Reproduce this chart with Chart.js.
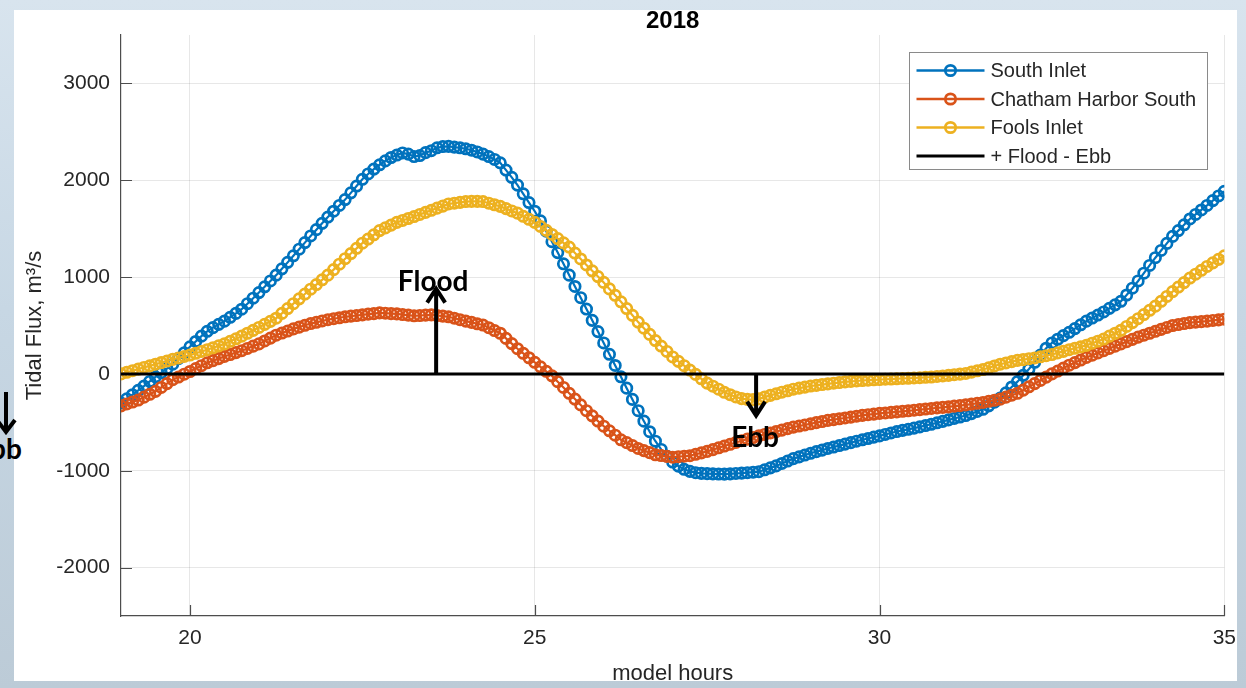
<!DOCTYPE html>
<html>
<head>
<meta charset="utf-8">
<title>Tidal Flux 2018</title>
<script src="https://cdn.jsdelivr.net/npm/chart.js@4.4.0/dist/chart.umd.min.js"></script>
<style>
    html, body {
        margin: 0;
        padding: 0;
        width: 1246px;
        height: 688px;
        overflow: hidden;
    }
    body {
        position: relative;
        background: linear-gradient(180deg, #d8e4ee 0%, #c7d7e4 45%, #bccbd7 100%);
    }
    #panel {
        position: absolute;
        left: 14px;
        top: 10px;
        width: 1223px;
        height: 671px;
        background: #ffffff;
    }
    #chart {
        position: absolute;
        left: 0;
        top: 0;
    }
    #edge-ebb {
        position: absolute;
        left: -26px;
        top: 431px;
        font: bold 28px Lato, 'Open Sans', sans-serif;
        color: #000;
    }
    #edge-arrow {
        position: absolute;
        left: -6px;
        top: 388px;
    }
</style>
</head>
<body>
<div id="panel"></div>
<svg id="edge-arrow" width="24" height="50">
    <path d="M12 4 L12 44 M3 32 L12 44 L21 32" stroke="#000" stroke-width="4" fill="none"/>
</svg>
<div id="edge-ebb">Ebb</div>
<canvas id="chart" width="1246" height="688"></canvas>
<script>
// Samples every 5 minutes from hour 19 to hour 35
const START_HOUR = 19;
const STEP_MINUTES = 5;

// South Inlet flux (m3/s), one row per model hour
const southInlet = [
    -300, -258, -215, -170, -125, -78, -30, 12, 55, 100, 158, 218,
    280, 335, 390, 440, 478, 512, 545, 585, 625, 668, 725, 782,
    840, 900, 960, 1020, 1085, 1152, 1220, 1288, 1356, 1425, 1490, 1555,
    1620, 1680, 1740, 1800, 1870, 1940, 2010, 2065, 2115, 2160, 2200, 2235,
    2260, 2282, 2270, 2245, 2255, 2285, 2305, 2335, 2348, 2350, 2342, 2335,
    2325, 2310, 2292, 2270, 2245, 2215, 2180, 2105, 2030, 1950, 1860, 1770,
    1680, 1580, 1475, 1365, 1253, 1137, 1020, 903, 787, 670, 553, 437,
    320, 203, 87, -30, -147, -263, -380, -488, -597, -695, -780, -850,
    -910, -952, -985, -1006, -1020, -1027, -1030, -1032, -1034, -1035, -1032, -1028,
    -1025, -1020, -1015, -1010, -990, -970, -950, -925, -900, -875, -857, -838,
    -820, -803, -787, -770, -755, -740, -725, -710, -695, -680, -667, -653,
    -640, -625, -610, -595, -583, -572, -560, -547, -533, -520, -505, -490,
    -475, -460, -445, -430, -410, -388, -365, -330, -292, -250, -195, -135,
    -80, -15, 50, 120, 195, 265, 320, 358, 395, 430, 468, 507,
    545, 577, 608, 640, 677, 713, 750, 815, 885, 960, 1040, 1120,
    1200, 1275, 1348, 1420, 1480, 1540, 1600, 1647, 1693, 1740, 1790, 1838,
    1885
];

// Chatham Harbor South flux (m3/s)
const chathamSouth = [
    -330, -310, -290, -270, -240, -210, -180, -140, -100, -60, -32, -3,
    25, 55, 85, 115, 137, 158, 180, 200, 220, 240, 263, 287,
    310, 340, 370, 400, 422, 443, 465, 483, 502, 520, 533, 547,
    560, 570, 580, 590, 597, 603, 610, 617, 623, 630, 627, 623,
    620, 613, 607, 600, 603, 607, 610, 603, 597, 590, 575, 560,
    545, 532, 518, 505, 477, 448, 420, 367, 313, 260, 213, 167,
    120, 73, 27, -20, -80, -140, -200, -260, -320, -380, -433, -487,
    -540, -587, -633, -680, -710, -740, -770, -792, -813, -835, -843, -852,
    -860, -855, -850, -845, -830, -815, -800, -782, -763, -745, -727, -708,
    -690, -673, -657, -640, -625, -610, -595, -580, -565, -550, -538, -527,
    -515, -503, -492, -480, -472, -463, -455, -446, -437, -428, -421, -415,
    -408, -403, -397, -392, -386, -381, -375, -369, -363, -357, -351, -346,
    -340, -333, -327, -320, -312, -303, -295, -283, -272, -260, -240, -220,
    -200, -167, -133, -100, -67, -33, 0, 30, 60, 90, 117, 143,
    170, 193, 217, 240, 263, 287, 310, 333, 357, 380, 400, 420,
    440, 460, 480, 500, 510, 520, 530, 535, 540, 545, 552, 558,
    565
];

// Fools Inlet flux (m3/s)
const foolsInlet = [
    0, 17, 33, 50, 67, 83, 100, 117, 133, 150, 165, 180,
    195, 213, 232, 250, 270, 290, 310, 337, 363, 390, 420, 450,
    480, 512, 543, 575, 625, 675, 725, 775, 825, 875, 923, 972,
    1020, 1077, 1133, 1190, 1243, 1297, 1350, 1393, 1437, 1480, 1508, 1537,
    1565, 1585, 1605, 1625, 1647, 1668, 1690, 1712, 1733, 1755, 1763, 1772,
    1780, 1782, 1782, 1780, 1763, 1747, 1730, 1707, 1683, 1660, 1628, 1597,
    1565, 1523, 1482, 1440, 1397, 1353, 1310, 1248, 1187, 1125, 1065, 1005,
    945, 878, 812, 745, 675, 605, 535, 472, 408, 345, 288, 232,
    175, 130, 85, 40, -5, -50, -95, -127, -158, -190, -215, -238,
    -255, -263, -265, -258, -240, -222, -205, -189, -174, -158, -147, -136,
    -125, -118, -110, -103, -96, -89, -82, -77, -73, -68, -65, -61,
    -58, -55, -53, -50, -47, -45, -42, -39, -35, -32, -26, -21,
    -15, -8, -2, 5, 18, 32, 45, 63, 82, 100, 113, 127,
    140, 148, 157, 165, 177, 188, 200, 217, 233, 250, 265, 280,
    295, 317, 338, 360, 390, 420, 450, 490, 530, 570, 613, 657,
    700, 750, 800, 850, 897, 943, 990, 1030, 1070, 1110, 1147, 1183,
    1220
];

// Zero reference line (+ Flood - Ebb)
const zeroLineHours = [19, 35];
const zeroLineValues = [0, 0];

const xTicks = [20, 25, 30, 35];
const yTicks = [-2000, -1000, 0, 1000, 2000, 3000];
const xRange = [19, 35];
const yRange = [-2500, 3500];

// Flood / Ebb annotation arrows: [hour, tip value]
const floodArrow = [23.57, 880];
const ebbArrow = [28.21, -430];

const FONT = "'Liberation Sans', Arial, Helvetica, sans-serif";
const NOTE_FONT = "bold 28px Lato, 'Open Sans', sans-serif";
const TEXT_COLOR = '#262626';
const AXIS_COLOR = '#4d4d4d';
const GRID_COLOR = 'rgba(38, 38, 38, 0.11)';

const colors = {
    south: '#0072BD',
    chatham: '#D95319',
    fools: '#EDB120'
};

function toPoints(values) {
    return values.map((v, i) => ({ x: START_HOUR + i * STEP_MINUTES / 60, y: v }));
}

function seriesStyle(label, color, values, order) {
    return {
        label: label,
        data: toPoints(values),
        borderColor: color,
        borderWidth: 2.2,
        pointStyle: 'circle',
        pointRadius: 5.2,
        pointBorderWidth: 2.7,
        pointBorderColor: color,
        pointBackgroundColor: 'rgba(0,0,0,0)',
        tension: 0,
        fill: false,
        order: order
    };
}

function drawArrow(ctx, x, y0, y1) {
    const dir = Math.sign(y1 - y0);
    ctx.beginPath();
    ctx.moveTo(x, y0);
    ctx.lineTo(x, y1);
    ctx.moveTo(x - 9, y1 - dir * 14);
    ctx.lineTo(x, y1);
    ctx.lineTo(x + 9, y1 - dir * 14);
    ctx.stroke();
}

const overlayPlugin = {
    id: 'matlabOverlay',
    beforeDatasetsDraw(chart) {
        // inward tick marks, MATLAB style
        const { ctx, chartArea: a, scales: { x, y } } = chart;
        ctx.save();
        ctx.strokeStyle = AXIS_COLOR;
        ctx.lineWidth = 1.2;
        ctx.beginPath();
        yTicks.forEach(v => {
            const py = Math.round(y.getPixelForValue(v)) + 0.5;
            ctx.moveTo(a.left, py);
            ctx.lineTo(a.left + 11, py);
        });
        xTicks.forEach(v => {
            const px = Math.round(x.getPixelForValue(v)) + 0.5;
            ctx.moveTo(px, a.bottom);
            ctx.lineTo(px, a.bottom - 11);
        });
        ctx.stroke();
        ctx.restore();
    },
    afterDatasetsDraw(chart) {
        const { ctx, scales: { x, y } } = chart;
        const y0 = y.getPixelForValue(0);
        ctx.save();
        ctx.strokeStyle = '#000';
        ctx.fillStyle = '#000';
        ctx.lineWidth = 4;
        ctx.lineCap = 'butt';
        ctx.lineJoin = 'miter';

        const fx = x.getPixelForValue(floodArrow[0]);
        const fy = y.getPixelForValue(floodArrow[1]);
        drawArrow(ctx, fx, y0, fy);
        const ex = x.getPixelForValue(ebbArrow[0]);
        const ey = y.getPixelForValue(ebbArrow[1]);
        drawArrow(ctx, ex, y0, ey);

        ctx.font = NOTE_FONT;
        ctx.textAlign = 'center';
        ctx.textBaseline = 'alphabetic';
        ctx.fillText('Flood', fx - 3, fy + 2);
        ctx.fillText('Ebb', ex - 1, ey + 31);
        ctx.restore();
    },
    afterDraw(chart) {
        // legend box in the upper right corner
        const { ctx, chartArea: a } = chart;
        const boxW = 298, boxH = 117;
        const bx = Math.round(a.right - 17 - boxW) + 0.5;
        const by = Math.round(a.top + 17) + 0.5;
        ctx.save();
        ctx.fillStyle = '#fff';
        ctx.fillRect(bx, by, boxW, boxH);
        ctx.strokeStyle = '#8a8a8a';
        ctx.lineWidth = 1;
        ctx.strokeRect(bx, by, boxW, boxH);

        const rows = chart.data.datasets.slice().sort((p, q) => p.legendIndex - q.legendIndex);
        rows.forEach((ds, i) => {
            const ry = by + 18 + i * 28.5;
            const lx0 = bx + 7, lx1 = bx + 75, cx = bx + 41;
            ctx.strokeStyle = ds.borderColor;
            ctx.lineWidth = ds.pointRadius > 0 ? 2.6 : 3.2;
            ctx.beginPath();
            ctx.moveTo(lx0, ry);
            ctx.lineTo(lx1, ry);
            ctx.stroke();
            if (ds.pointRadius > 0) {
                ctx.lineWidth = ds.pointBorderWidth;
                ctx.beginPath();
                ctx.arc(cx, ry, ds.pointRadius, 0, Math.PI * 2);
                ctx.stroke();
            }
            ctx.fillStyle = TEXT_COLOR;
            ctx.font = '20px ' + FONT;
            ctx.textAlign = 'left';
            ctx.textBaseline = 'middle';
            ctx.fillText(ds.label, bx + 81, ry + 1);
        });
        ctx.restore();
    }
};

const datasets = [
    Object.assign(seriesStyle('South Inlet', colors.south, southInlet, 3), { legendIndex: 0 }),
    Object.assign(seriesStyle('Chatham Harbor South', colors.chatham, chathamSouth, 2), { legendIndex: 1 }),
    Object.assign(seriesStyle('Fools Inlet', colors.fools, foolsInlet, 1), { legendIndex: 2 }),
    {
        label: '+ Flood - Ebb',
        data: zeroLineHours.map((h, i) => ({ x: h, y: zeroLineValues[i] })),
        borderColor: '#000',
        borderWidth: 3,
        pointRadius: 0,
        order: 0,
        legendIndex: 3
    }
];

new Chart(document.getElementById('chart'), {
    type: 'line',
    data: { datasets: datasets },
    options: {
        responsive: false,
        animation: false,
        devicePixelRatio: 1,
        layout: { padding: { left: 0, right: 20, top: 0, bottom: 0 } },
        plugins: {
            legend: { display: false },
            tooltip: { enabled: false },
            title: {
                display: true,
                fullSize: false,
                text: '2018',
                color: '#000',
                font: { family: FONT, size: 24, weight: 'bold', lineHeight: 1.0 },
                padding: { top: 9, bottom: 2 }
            }
        },
        scales: {
            x: {
                type: 'linear',
                min: xRange[0],
                max: xRange[1],
                afterBuildTicks: axis => { axis.ticks = xTicks.map(v => ({ value: v })); },
                afterFit: scale => { scale.height = 72; },
                grid: { color: GRID_COLOR, drawTicks: false, lineWidth: 1 },
                border: { display: true, color: AXIS_COLOR, width: 1.2 },
                ticks: {
                    padding: 10,
                    color: TEXT_COLOR,
                    maxRotation: 0,
                    font: { family: FONT, size: 21 },
                    callback: v => String(v)
                },
                title: {
                    display: true,
                    text: 'model hours',
                    color: TEXT_COLOR,
                    font: { family: FONT, size: 22 },
                    padding: { top: 0, bottom: 1 }
                }
            },
            y: {
                min: yRange[0],
                max: yRange[1],
                afterBuildTicks: axis => { axis.ticks = yTicks.map(v => ({ value: v })); },
                afterFit: scale => { scale.width = 121; },
                grid: { color: GRID_COLOR, drawTicks: false, lineWidth: 1 },
                border: { display: true, color: AXIS_COLOR, width: 1.2 },
                ticks: {
                    padding: 11,
                    color: TEXT_COLOR,
                    font: { family: FONT, size: 21 },
                    callback: v => String(v)
                },
                title: {
                    display: true,
                    text: 'Tidal Flux, m³/s',
                    color: TEXT_COLOR,
                    font: { family: FONT, size: 22 },
                    padding: { top: 22, bottom: 0 }
                }
            }
        }
    },
    plugins: [overlayPlugin]
});
</script>
</body>
</html>
